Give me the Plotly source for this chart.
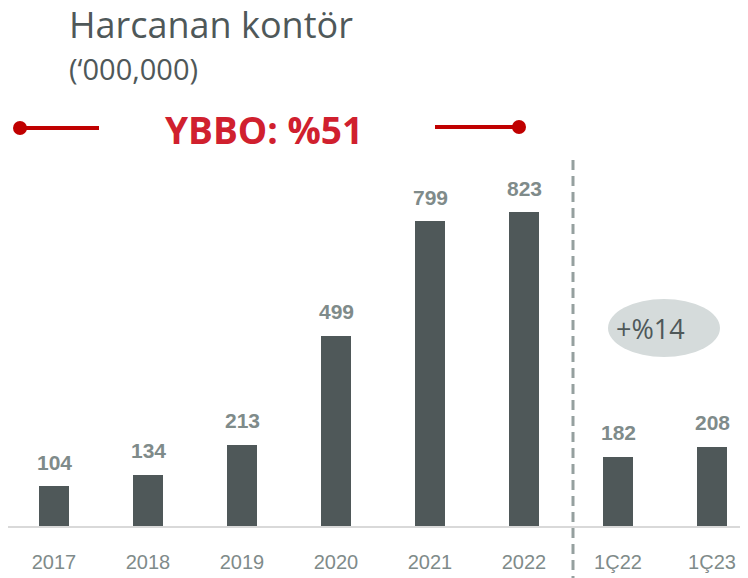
import plotly.graph_objects as go

categories = ["2017", "2018", "2019", "2020", "2021", "2022", "1Ç22", "1Ç23"]
values = [104, 134, 213, 499, 799, 823, 182, 208]
value_labels = ["104", "134", "213", "499", "799", "823", "182", "208"]
title_text = "Harcanan kontör"
subtitle_text = "(‘000,000)"
cagr_text = "YBBO: %51"
growth_text = "+%14"

BAR = "#4f5859"
GREY_TXT = "#7f8b8a"
RED = "#c00000"
NUMF = "Liberation Sans, Arial, sans-serif"
OPEN = "Open Sans, sans-serif"

OFF = 8                 # page body margin
W, H = 748 - OFF, 578 - OFF
ML, MB = 0, 52
BASE = H - MB           # baseline pixel in figure coords (ref 526)
SCALE = 0.3815          # px per unit


def px(xr):
    return (xr - OFF - ML) / (W - ML)


def py(yr):
    return (BASE - (yr - OFF)) / BASE


def dx(xr):
    return (xr - OFF - 46) / 94.0


fig = go.Figure()
fig.add_trace(go.Bar(
    x=list(range(len(categories))), y=values,
    marker=dict(color=BAR, line=dict(width=0)),
    width=0.32, hoverinfo="skip", showlegend=False,
))

annotations = []
for i, (v, t) in enumerate(zip(values, value_labels)):
    annotations.append(dict(
        x=i, y=v, xref="x", yref="y", text=t, showarrow=False,
        yanchor="middle", yshift=24,
        font=dict(family=NUMF, size=21, color=GREY_TXT, weight="bold"),
    ))

annotations += [
    dict(x=px(67), y=py(24), xref="paper", yref="paper", text=title_text,
         showarrow=False, xanchor="left", yanchor="middle",
         font=dict(family=OPEN, size=36, color="#4f5859")),
    dict(x=px(67), y=py(69), xref="paper", yref="paper", text=subtitle_text,
         showarrow=False, xanchor="left", yanchor="middle",
         font=dict(family=OPEN, size=29, color="#4f5859")),
    dict(x=px(264), y=py(130), xref="paper", yref="paper", text=cagr_text,
         showarrow=False, xanchor="center", yanchor="middle",
         font=dict(family=OPEN, size=37, color="#d0202e", weight="bold")),
    dict(x=dx(650), y=(BASE - (328 - OFF)) / SCALE, xref="x", yref="y", text=growth_text,
         showarrow=False, xanchor="center", yanchor="middle",
         font=dict(family=OPEN, size=27, color="#4f5859")),
]

shapes = [
    dict(type="circle", xref="x", yref="y", x0=dx(608), x1=dx(720),
         y0=(BASE - (357 - OFF)) / SCALE, y1=(BASE - (299 - OFF)) / SCALE,
         fillcolor="#d5dbdb", line=dict(width=0), layer="below"),
    dict(type="line", xref="x", yref="paper", x0=dx(573), x1=dx(573),
         y0=py(160), y1=py(580), line=dict(color="#95a09f", width=3, dash="10px,6px")),
    dict(type="line", xref="paper", yref="paper", x0=px(20), x1=px(99),
         y0=py(128), y1=py(128), line=dict(color=RED, width=4)),
    dict(type="line", xref="paper", yref="paper", x0=px(435), x1=px(519),
         y0=py(127), y1=py(127), line=dict(color=RED, width=4)),
    dict(type="circle", xref="paper", yref="paper", xsizemode="pixel", ysizemode="pixel",
         xanchor=px(20), yanchor=py(128), x0=-7, x1=7, y0=-7, y1=7,
         fillcolor=RED, line=dict(width=0)),
    dict(type="circle", xref="paper", yref="paper", xsizemode="pixel", ysizemode="pixel",
         xanchor=px(519), yanchor=py(127), x0=-7, x1=7, y0=-7, y1=7,
         fillcolor=RED, line=dict(width=0)),
]

fig.update_layout(
    width=W, height=H,
    margin=dict(l=ML, r=0, t=0, b=MB),
    paper_bgcolor="white", plot_bgcolor="white",
    annotations=annotations, shapes=shapes,
    xaxis=dict(
        range=[dx(OFF + ML), dx(748)], tickmode="array",
        tickvals=list(range(len(categories))), ticktext=categories,
        showgrid=False, zeroline=False, showline=True,
        linecolor="#d9d9d9", linewidth=2,
        ticks="outside", ticklen=17, tickcolor="rgba(0,0,0,0)",
        tickfont=dict(family=NUMF, size=20, color=GREY_TXT),
        fixedrange=True,
    ),
    yaxis=dict(range=[0, BASE / SCALE], visible=False, fixedrange=True),
    bargap=0,
)

fig.write_html("out.html")
